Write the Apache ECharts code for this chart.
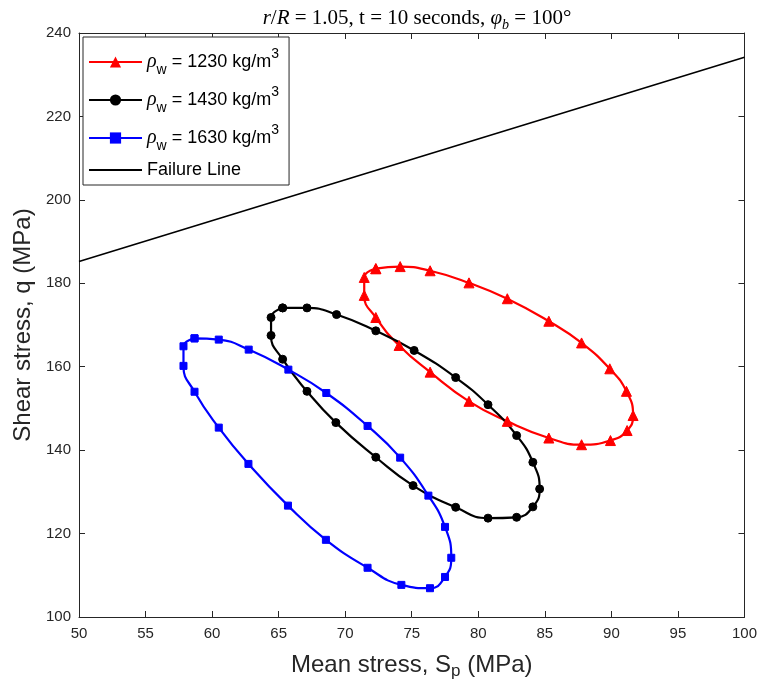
<!DOCTYPE html>
<html>
<head>
<meta charset="utf-8">
<script src="https://cdn.jsdelivr.net/npm/echarts@6/dist/echarts.min.js"></script>
<style>html,body{margin:0;padding:0;background:#fff;}#c{width:760px;height:691px;}</style>
</head>
<body>
<div id="c"></div>
<script>
// ---- data ----
const xTicks = [50, 55, 60, 65, 70, 75, 80, 85, 90, 95, 100];
const yTicks = [100, 120, 140, 160, 180, 200, 220, 240];

const redX = [72.30, 74.13, 76.38, 79.30, 82.18, 85.30, 87.76, 89.88, 91.13, 91.63, 91.18, 89.93, 87.76, 85.30, 82.18, 79.30, 76.38, 74.05, 72.30, 71.43, 71.43];
const redY = [183.5, 184.0, 183.0, 180.1, 176.3, 170.9, 165.7, 159.5, 154.1, 148.3, 144.7, 142.3, 141.3, 142.9, 146.9, 151.7, 158.7, 165.1, 171.8, 177.1, 181.4];

const blackX = [65.30, 67.13, 69.35, 72.30, 75.18, 78.30, 80.73, 82.88, 84.10, 84.61, 84.10, 82.88, 80.73, 78.30, 75.10, 72.30, 69.30, 67.13, 65.30, 64.43, 64.43];
const blackY = [174.1, 174.1, 172.5, 168.6, 163.9, 157.4, 150.9, 143.5, 137.1, 130.7, 126.4, 123.9, 123.7, 126.3, 131.5, 138.3, 146.6, 154.1, 161.8, 167.5, 171.8];

const blueX = [58.68, 60.50, 62.75, 65.73, 68.58, 71.68, 74.13, 76.25, 77.50, 77.97, 77.50, 76.37, 74.22, 71.68, 68.55, 65.70, 62.73, 60.50, 58.68, 57.85, 57.85];
const blueY = [166.8, 166.5, 164.1, 159.3, 153.7, 145.8, 138.2, 129.1, 121.6, 114.2, 109.6, 106.9, 107.7, 111.8, 118.5, 126.7, 136.7, 145.4, 154.0, 160.2, 164.9];

const failX = [50, 100];
const failY = [185.2, 234.2];

const seriesNames = ['rho1230', 'rho1430', 'rho1630', 'Failure Line'];
const legendLabels = {
  rho1230: '{r|ρ}{sub|w}{t| = 1230 kg/m}{sup|3}',
  rho1430: '{r|ρ}{sub|w}{t| = 1430 kg/m}{sup|3}',
  rho1630: '{r|ρ}{sub|w}{t| = 1630 kg/m}{sup|3}',
  'Failure Line': 'Failure Line'
};

// ---- helpers ----
function loop(xs, ys) {
  const d = xs.map((x, i) => [x, ys[i]]);
  d.push([xs[0], ys[0]]);
  return d;
}
function pts(xs, ys) { return xs.map((x, i) => [x, ys[i]]); }

const AX = '#262626';
const SANS = 'Liberation Sans, Arial, Helvetica, sans-serif';
const SERIF = 'Liberation Serif, Times New Roman, serif';

const chart = echarts.init(document.getElementById('c'), null, {renderer: 'canvas'});

function xAxisCfg(pos, showLabel) {
  return {
    type: 'value', position: pos, min: xTicks[0], max: xTicks[xTicks.length - 1], interval: 5,
    axisLine: {show: true, onZero: false, lineStyle: {color: AX, width: 1}},
    axisTick: {show: true, inside: true, length: 6, lineStyle: {color: AX}},
    axisLabel: {show: showLabel, color: AX, fontSize: 15, fontFamily: SANS, margin: 9},
    splitLine: {show: false}
  };
}
function yAxisCfg(pos, showLabel) {
  return {
    type: 'value', position: pos, min: yTicks[0], max: yTicks[yTicks.length - 1], interval: 20,
    axisLine: {show: true, onZero: false, lineStyle: {color: AX, width: 1}},
    axisTick: {show: true, inside: true, length: 6, lineStyle: {color: AX}},
    axisLabel: {show: showLabel, color: AX, fontSize: 15, fontFamily: SANS, margin: 8},
    splitLine: {show: false}
  };
}

const xMain = xAxisCfg('bottom', true);
xMain.name = 'Mean stress, S{sub|p} (MPa)';
xMain.nameLocation = 'middle';
xMain.nameGap = 33;
xMain.nameTextStyle = {
  color: AX, fontSize: 24, fontFamily: SANS, verticalAlign: 'top', lineHeight: 30,
  rich: {sub: {fontSize: 17, fontFamily: SANS, color: AX, verticalAlign: 'bottom', padding: [14, 0, 0, 0]}}
};
const yMain = yAxisCfg('left', true);
yMain.name = 'Shear stress, q (MPa)';
yMain.nameLocation = 'middle';
yMain.nameGap = 43;
yMain.nameTextStyle = {color: AX, fontSize: 24, fontFamily: SANS};

function lineSeries(name, data, color, symbol, size) {
  return {
    name: name, type: 'line', data: data, xAxisIndex: 0, yAxisIndex: 0,
    smooth: 0.5, symbol: symbol, symbolSize: size, showSymbol: true,
    lineStyle: {color: color, width: 2.2},
    itemStyle: {color: color, borderColor: color},
    emphasis: {disabled: true}, z: 3
  };
}

const option = {
  animation: false,
  backgroundColor: '#ffffff',
  title: {
    text: '{i|r}/{i|R} = 1.05, t = 10 seconds, {i|φ}{sub|b} = 100°',
    left: 412, top: -1, textAlign: 'center',
    textStyle: {
      fontFamily: SERIF, fontSize: 21, fontWeight: 'normal', color: '#000', lineHeight: 28,
      rich: {
        i: {fontFamily: SERIF, fontStyle: 'italic', fontSize: 21, color: '#000'},
        sub: {fontFamily: SERIF, fontStyle: 'italic', fontSize: 14, color: '#000', verticalAlign: 'bottom'}
      }
    }
  },
  grid: {left: 79, right: 14, top: 33, bottom: 74, containLabel: false},
  xAxis: [xMain, xAxisCfg('top', false)],
  yAxis: [yMain, yAxisCfg('right', false)],
  legend: {
    orient: 'vertical', left: 83, top: 37,
    data: [
      {name: 'rho1230'},
      {name: 'rho1430'},
      {name: 'rho1630'},
      {name: 'Failure Line', itemStyle: {opacity: 0}}
    ],
    itemWidth: 53, itemHeight: 14, itemGap: 8,
    padding: [10, 10, 6, 5],
    backgroundColor: '#fff', borderColor: AX, borderWidth: 1, borderRadius: 0,
    formatter: function (n) { return legendLabels[n]; },
    textStyle: {
      color: '#000', fontSize: 18, fontFamily: SANS,
      rich: {
        r: {fontSize: 20, fontFamily: SERIF, fontStyle: 'italic', color: '#000', lineHeight: 30},
        sub: {fontSize: 14, fontFamily: SANS, color: '#000', verticalAlign: 'bottom'},
        t: {fontSize: 18, fontFamily: SANS, color: '#000', lineHeight: 30},
        sup: {fontSize: 14, fontFamily: SANS, color: '#000', verticalAlign: 'top'}
      }
    }
  },
  series: [
    lineSeries('rho1230', loop(redX, redY), '#ff0000', 'triangle', 10),
    lineSeries('rho1430', loop(blackX, blackY), '#000000', 'circle', 8),
    lineSeries('rho1630', loop(blueX, blueY), '#0000ff', 'rect', 7),
    {
      name: 'Failure Line', type: 'line', data: pts(failX, failY), symbol: 'none', showSymbol: false,
      lineStyle: {color: '#000', width: 1.6}, itemStyle: {color: '#000'}, emphasis: {disabled: true}, z: 3
    }
  ]
};
chart.setOption(option);
</script>
</body>
</html>
